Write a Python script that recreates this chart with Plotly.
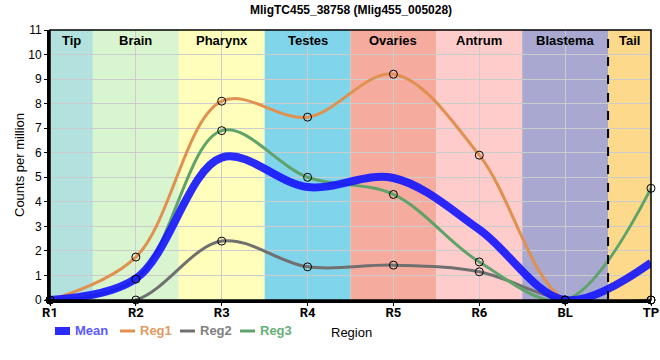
import plotly.graph_objects as go

regions = ["R1", "R2", "R3", "R4", "R5", "R6", "BL", "TP"]
reg1 = [0, 1.75, 8.1, 7.45, 9.2, 5.9, 0, 0]
reg2 = [0, 0, 2.4, 1.35, 1.42, 1.15, 0, 0]
reg3 = [0, 0.85, 6.9, 5.0, 4.3, 1.55, 0, 4.55]
mean = [0, 0.87, 5.8, 4.6, 4.97, 2.87, 0, 1.52]

band_names = ["Tip", "Brain", "Pharynx", "Testes", "Ovaries", "Antrum", "Blastema", "Tail"]
band_edges = [0, 0.5, 1.5, 2.5, 3.5, 4.5, 5.5, 6.5, 7]
band_colors = ["#b3e2de", "#d8f5d0", "#ffffbb", "#80d5eb", "#f5ab9e", "#ffcccc", "#a8a8d0", "#fdd98c"]

xs = list(range(len(regions)))

W, H = 660, 360
L, R, T, B = 50, 9, 30, 60
PW, PH = W - L - R, H - T - B


def px(xp):
    return (xp - L) / PW


def py(yp):
    return (H - B - yp) / PH


fig = go.Figure()

series = [
    ("Reg1", reg1, "#e0904f"),
    ("Reg2", reg2, "#707070"),
    ("Reg3", reg3, "#5fa36a"),
]

for name, vals, col in series:
    fig.add_trace(go.Scatter(
        x=xs, y=vals, mode="lines",
        line=dict(color=col, width=3, shape="spline", smoothing=1),
        name=name, showlegend=False,
    ))

fig.add_trace(go.Scatter(
    x=xs, y=mean, mode="lines",
    line=dict(color="rgba(20,20,255,0.9)", width=8, shape="spline", smoothing=1),
    name="Mean", showlegend=False,
))

for name, vals, col in series:
    fig.add_trace(go.Scatter(
        x=xs, y=vals, mode="markers",
        marker=dict(symbol="circle-open", size=8, color="black", line=dict(width=1)),
        showlegend=False, cliponaxis=False,
    ))

shapes = []
for i, c in enumerate(band_colors):
    shapes.append(dict(type="rect", xref="x", yref="y", x0=band_edges[i], x1=band_edges[i + 1],
                       y0=0, y1=11, fillcolor=c, line=dict(width=0), layer="below"))
shapes.append(dict(type="line", xref="x", yref="y", x0=6.5, x1=6.5, y0=0, y1=11,
                   line=dict(color="black", width=2, dash="dash"), layer="above"))
shapes.append(dict(type="rect", xref="paper", yref="paper", x0=0, x1=1, y0=0, y1=1,
                   line=dict(color="black", width=1.5), layer="above"))

annotations = []
for i, n in enumerate(band_names):
    annotations.append(dict(x=(band_edges[i] + band_edges[i + 1]) / 2, y=1, xref="x", yref="paper",
                            text=f"<b>{n}</b>", showarrow=False, yanchor="top", yshift=-1,
                            font=dict(size=13, color="black", family="Liberation Sans, Arial")))

# manual legend
legend_items = [
    ("Mean", 55, "rgba(20,20,255,0.9)", 8, "#5a5aff"),
    ("Reg1", 120, "#e0904f", 3, "#e39a5e"),
    ("Reg2", 180, "#707070", 3, "#808080"),
    ("Reg3", 240, "#5fa36a", 3, "#66b077"),
]
ly = 331
for name, x0, col, w, tcol in legend_items:
    shapes.append(dict(type="line", xref="paper", yref="paper", x0=px(x0), x1=px(x0 + 15),
                       y0=py(ly), y1=py(ly), line=dict(color=col, width=w)))
    annotations.append(dict(x=px(x0 + 18), y=py(ly), xref="paper", yref="paper",
                            text=f"<b>{name}</b>", showarrow=False, xanchor="left", yanchor="middle",
                            font=dict(size=13, color=tcol, family="Liberation Sans, Arial")))
annotations.append(dict(x=px(351), y=py(332), xref="paper", yref="paper", text="Region",
                        showarrow=False, xanchor="center", yanchor="middle",
                        font=dict(size=13, color="black", family="Liberation Sans, Arial")))
annotations.append(dict(x=0.5, y=1, xref="paper", yref="paper", yshift=20,
                        text="<b>MligTC455_38758 (Mlig455_005028)</b>", showarrow=False,
                        xanchor="center", yanchor="middle",
                        font=dict(size=12, color="black", family="Liberation Sans, Arial")))
annotations.append(dict(x=px(19), y=0.5, xref="paper", yref="paper", text="Counts per million",
                        textangle=-90, showarrow=False, xanchor="center", yanchor="middle",
                        font=dict(size=13, color="black", family="Liberation Sans, Arial")))

fig.update_layout(
    width=W, height=H,
    margin=dict(l=L, r=R, t=T, b=B),
    paper_bgcolor="white", plot_bgcolor="white",
    font=dict(family="Liberation Sans, Arial", color="black"),
    shapes=shapes, annotations=annotations,
    showlegend=False,
)

fig.update_xaxes(range=[0, 7], tickvals=xs, ticktext=[f"<b>{r}</b>" for r in regions],
                 tickfont=dict(size=13, family="Roboto, Liberation Sans"),
                 showgrid=True, gridcolor="#cccccc", gridwidth=1,
                 showline=True, linecolor="black", linewidth=3,
                 ticks="outside", ticklen=3, tickcolor="black", ticklabelstandoff=-5,
                 zeroline=False, fixedrange=True, automargin=False)
fig.update_yaxes(range=[0, 11], dtick=1, tickfont=dict(size=12),
                 showgrid=True, gridcolor="#cccccc", gridwidth=1,
                 showline=True, linecolor="black", linewidth=3,
                 ticks="outside", ticklen=3, tickcolor="black",
                 zeroline=False, fixedrange=True, automargin=False)

fig.write_html("out.html", config={"displayModeBar": False},
               post_script="document.body.style.margin='0px';document.body.style.overflow='hidden';")
